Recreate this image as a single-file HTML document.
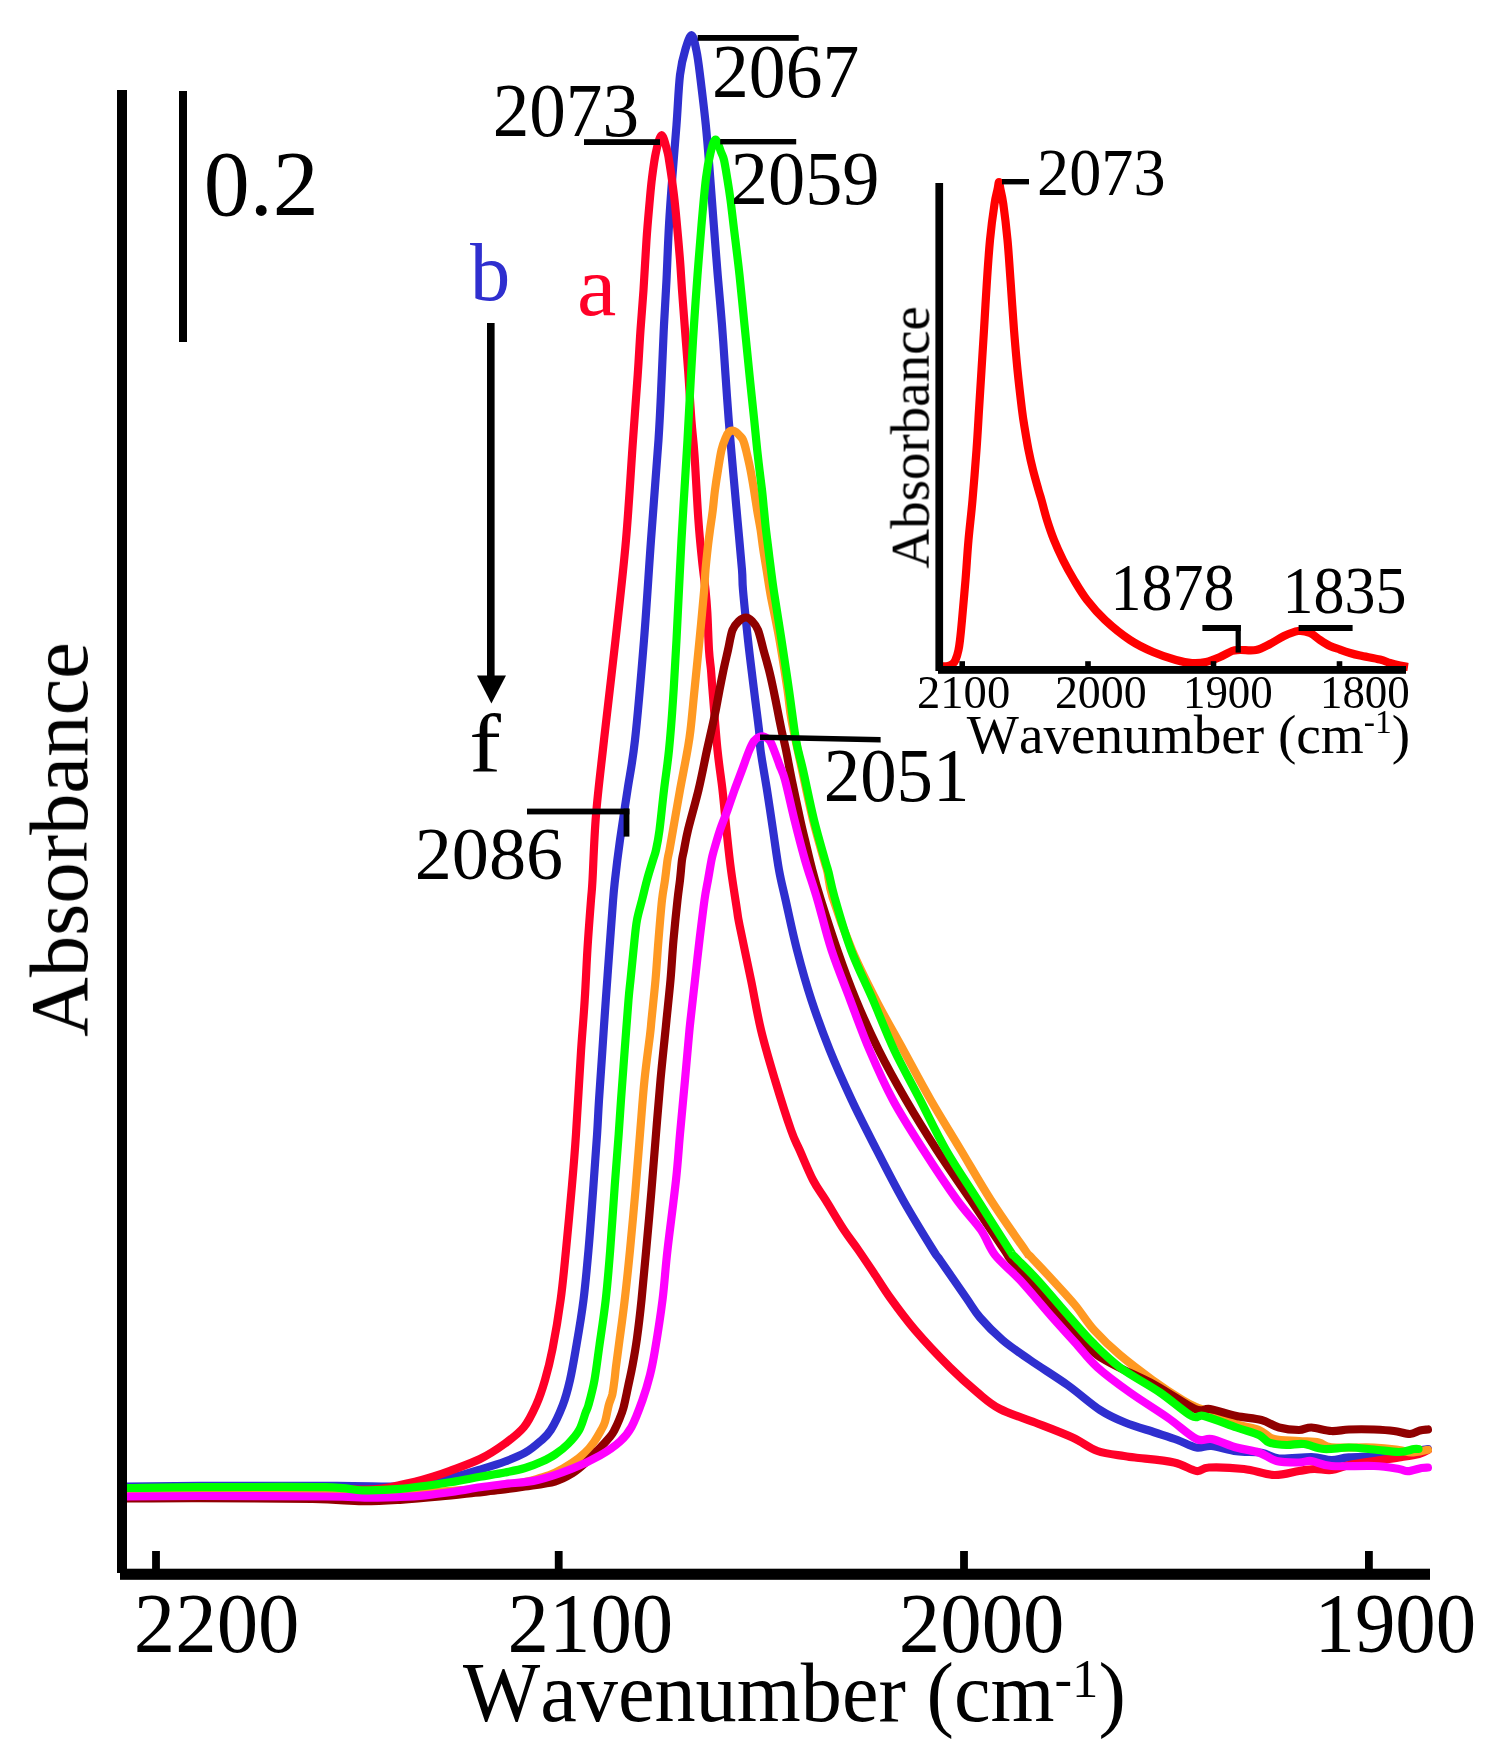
<!DOCTYPE html>
<html><head><meta charset="utf-8"><title>IR spectra</title>
<style>
html,body{margin:0;padding:0;background:#fff;}
body{width:1499px;height:1758px;position:relative;overflow:hidden;font-family:"Liberation Serif",serif;}
svg text{font-family:"Liberation Serif",serif;font-kerning:none;}
</style></head><body>
<svg width="1499" height="1758" viewBox="0 0 1499 1758" style="display:block;position:absolute;left:0;top:0">
<rect width="1499" height="1758" fill="#fff"/>
<defs><clipPath id="cc"><rect x="100" y="0" width="1332" height="1758"/></clipPath></defs>
<g clip-path="url(#cc)">
<path d="M127.0,1486.5 C139.2,1486.4 165.0,1486.0 200.0,1485.9 C235.0,1485.8 303.7,1485.8 337.0,1485.9 C370.3,1486.0 384.2,1487.2 400.0,1486.5 C415.8,1485.8 422.0,1483.8 432.0,1482.0 C442.0,1480.2 452.0,1477.6 460.0,1475.5 C468.0,1473.4 472.5,1471.9 480.0,1469.6 C487.5,1467.3 497.5,1464.3 505.0,1461.5 C512.5,1458.7 519.2,1456.1 525.0,1452.8 C530.8,1449.5 535.7,1445.3 540.0,1441.5 C544.3,1437.7 547.0,1436.1 550.8,1430.0 C554.6,1423.9 559.6,1413.3 562.8,1405.0 C566.0,1396.7 567.7,1390.0 570.0,1380.0 C572.3,1370.0 574.2,1358.3 576.5,1345.0 C578.8,1331.7 581.5,1315.8 583.5,1300.0 C585.5,1284.2 586.8,1269.2 588.5,1250.0 C590.2,1230.8 592.1,1204.3 593.5,1185.0 C594.9,1165.7 596.2,1148.2 597.1,1134.0 C598.0,1119.8 598.1,1114.0 599.0,1100.0 C599.9,1086.0 601.3,1066.7 602.4,1050.0 C603.5,1033.3 604.6,1016.7 605.8,1000.0 C607.0,983.3 608.2,966.7 609.4,950.0 C610.6,933.3 612.2,911.7 613.1,900.0 C614.0,888.3 613.9,890.0 615.0,880.0 C616.1,870.0 617.9,855.0 620.0,840.0 C622.1,825.0 625.0,806.7 627.5,790.0 C630.0,773.3 632.2,765.0 635.0,740.0 C637.8,715.0 641.3,673.3 644.0,640.0 C646.7,606.7 648.6,573.3 651.0,540.0 C653.4,506.7 656.7,467.5 658.5,440.0 C660.3,412.5 660.9,394.2 661.8,375.0 C662.7,355.8 663.2,340.8 664.0,325.0 C664.8,309.2 665.7,296.7 666.5,280.0 C667.3,263.3 668.0,242.5 669.0,225.0 C670.0,207.5 671.2,191.7 672.5,175.0 C673.8,158.3 675.2,141.7 676.5,125.0 C677.8,108.3 678.5,87.7 680.0,75.0 C681.5,62.3 683.5,55.6 685.5,49.0 C687.5,42.4 689.9,34.9 691.7,35.2 C693.5,35.5 695.1,44.4 696.5,51.0 C697.9,57.6 698.5,62.7 700.0,75.0 C701.5,87.3 704.1,108.3 705.8,125.0 C707.5,141.7 708.7,158.3 710.0,175.0 C711.3,191.7 712.5,208.3 713.8,225.0 C715.1,241.7 716.3,258.3 717.7,275.0 C719.1,291.7 720.7,308.3 722.0,325.0 C723.3,341.7 724.4,359.2 725.5,375.0 C726.6,390.8 727.5,404.2 728.7,420.0 C730.0,435.8 731.5,453.3 733.0,470.0 C734.5,486.7 736.0,503.3 737.5,520.0 C739.0,536.7 741.1,558.3 742.0,570.0 C742.9,581.7 742.0,578.3 743.0,590.0 C744.0,601.7 746.2,623.3 748.0,640.0 C749.8,656.7 752.2,675.0 754.0,690.0 C755.8,705.0 757.9,720.0 759.0,730.0 C760.1,740.0 759.2,740.0 760.5,750.0 C761.8,760.0 764.9,776.7 767.0,790.0 C769.1,803.3 771.0,816.7 773.0,830.0 C775.0,843.3 776.9,858.3 779.0,870.0 C781.1,881.7 782.6,886.7 785.6,900.0 C788.6,913.3 792.7,933.3 797.0,950.0 C801.3,966.7 805.9,983.3 811.4,1000.0 C816.9,1016.7 823.0,1033.3 829.7,1050.0 C836.4,1066.7 843.9,1083.3 851.7,1100.0 C859.5,1116.7 868.2,1133.3 876.7,1150.0 C885.2,1166.7 893.6,1183.3 903.0,1200.0 C912.4,1216.7 926.8,1240.0 933.0,1250.0 C939.2,1260.0 934.5,1252.1 940.0,1260.0 C945.5,1267.9 959.3,1287.9 966.0,1297.5 C972.7,1307.1 973.9,1310.4 980.0,1317.5 C986.1,1324.6 994.2,1332.9 1002.5,1340.0 C1010.8,1347.1 1019.2,1352.5 1030.0,1360.0 C1040.8,1367.5 1055.8,1376.7 1067.5,1385.0 C1079.2,1393.3 1090.4,1403.8 1100.0,1410.0 C1109.6,1416.2 1115.8,1418.8 1125.0,1422.5 C1134.2,1426.2 1146.2,1429.6 1155.0,1432.5 C1163.8,1435.4 1170.6,1437.5 1177.5,1440.0 C1184.4,1442.5 1190.8,1446.5 1196.5,1447.5 C1202.2,1448.5 1204.8,1445.4 1211.5,1446.0 C1218.2,1446.6 1228.2,1450.2 1236.5,1451.3 C1244.8,1452.4 1254.4,1451.6 1261.5,1452.8 C1268.6,1454.0 1270.7,1457.8 1279.0,1458.5 C1287.3,1459.2 1302.8,1456.8 1311.5,1457.0 C1320.2,1457.2 1325.2,1459.9 1331.5,1460.0 C1337.8,1460.1 1339.8,1458.2 1349.0,1457.4 C1358.2,1456.7 1373.3,1456.9 1386.5,1455.5 C1399.7,1454.1 1421.0,1450.2 1427.9,1449.1" fill="none" stroke="#2f2fcf" stroke-width="8.2" stroke-linejoin="round" stroke-linecap="round"/>
<path d="M127.0,1489.0 C139.2,1488.8 171.2,1488.2 200.0,1488.0 C228.8,1487.8 272.9,1487.2 300.0,1487.5 C327.1,1487.8 348.3,1489.4 362.5,1489.5 C376.7,1489.6 378.8,1488.7 385.0,1488.0 C391.2,1487.3 395.0,1486.1 400.0,1485.1 C405.0,1484.1 409.7,1483.1 415.0,1481.8 C420.3,1480.5 426.2,1478.8 432.0,1477.0 C437.8,1475.2 442.0,1473.8 450.0,1470.8 C458.0,1467.8 470.8,1463.5 480.0,1459.0 C489.2,1454.5 497.7,1448.8 505.0,1443.5 C512.3,1438.2 518.8,1433.4 524.0,1427.0 C529.2,1420.6 532.7,1412.8 536.2,1405.0 C539.7,1397.2 542.3,1389.3 545.0,1380.0 C547.7,1370.7 549.9,1362.3 552.5,1349.0 C555.1,1335.7 558.4,1316.5 560.6,1300.0 C562.9,1283.5 564.1,1269.2 566.0,1250.0 C567.9,1230.8 570.3,1204.3 572.0,1185.0 C573.7,1165.7 574.5,1156.5 576.0,1134.0 C577.5,1111.5 579.6,1072.3 581.1,1050.0 C582.6,1027.7 583.7,1016.7 584.7,1000.0 C585.8,983.3 586.4,966.7 587.4,950.0 C588.4,933.3 590.1,911.7 591.0,900.0 C591.9,888.3 591.7,894.2 592.5,880.0 C593.3,865.8 594.1,838.3 596.0,815.0 C597.9,791.7 600.8,769.2 604.0,740.0 C607.2,710.8 611.8,673.3 615.5,640.0 C619.2,606.7 623.1,573.3 626.0,540.0 C628.9,506.7 631.0,467.5 633.0,440.0 C635.0,412.5 636.5,393.3 637.7,375.0 C639.0,356.7 639.5,344.2 640.5,330.0 C641.5,315.8 642.5,305.0 643.5,290.0 C644.5,275.0 645.5,255.0 646.5,240.0 C647.5,225.0 648.9,210.3 649.8,200.0 C650.7,189.7 651.0,186.0 652.0,178.0 C653.0,170.0 654.4,159.1 656.0,152.0 C657.6,144.9 659.7,135.5 661.5,135.2 C663.3,134.9 665.8,145.9 667.0,150.0 C668.2,154.1 668.2,155.0 669.0,160.0 C669.8,165.0 671.1,173.3 672.0,180.0 C672.9,186.7 673.8,193.3 674.5,200.0 C675.2,206.7 675.6,210.0 676.5,220.0 C677.4,230.0 679.1,248.3 680.0,260.0 C680.9,271.7 681.2,278.3 682.0,290.0 C682.8,301.7 684.0,316.7 685.0,330.0 C686.0,343.3 687.0,355.0 688.1,370.0 C689.2,385.0 690.3,405.8 691.4,420.0 C692.5,434.2 693.3,438.3 694.5,455.0 C695.7,471.7 697.1,502.5 698.4,520.0 C699.6,537.5 700.8,548.3 702.0,560.0 C703.2,571.7 704.6,581.3 705.5,590.0 C706.4,598.7 706.7,602.0 707.3,612.0 C707.9,622.0 708.4,640.3 709.0,650.0 C709.6,659.7 710.4,663.3 711.0,670.0 C711.6,676.7 711.4,676.7 712.5,690.0 C713.6,703.3 715.8,733.3 717.5,750.0 C719.2,766.7 721.0,776.7 722.5,790.0 C724.0,803.3 725.1,816.7 726.5,830.0 C727.9,843.3 729.2,856.7 731.0,870.0 C732.8,883.3 735.6,900.8 737.0,910.0 C738.4,919.2 737.2,913.3 739.5,925.0 C741.8,936.7 747.4,962.5 751.0,980.0 C754.6,997.5 757.0,1013.3 761.0,1030.0 C765.0,1046.7 770.0,1063.3 775.0,1080.0 C780.0,1096.7 786.9,1118.3 791.0,1130.0 C795.1,1141.7 795.9,1141.7 799.6,1150.0 C803.3,1158.3 808.7,1171.7 813.0,1180.0 C817.3,1188.3 820.4,1191.7 825.6,1200.0 C830.8,1208.3 838.5,1221.7 844.0,1230.0 C849.5,1238.3 853.4,1242.9 858.3,1250.0 C863.2,1257.1 868.2,1264.6 873.5,1272.5 C878.8,1280.4 883.1,1287.9 890.0,1297.5 C896.9,1307.1 905.0,1318.3 915.0,1330.0 C925.0,1341.7 939.6,1357.1 950.0,1367.5 C960.4,1377.9 969.2,1385.6 977.5,1392.5 C985.8,1399.4 990.4,1404.0 1000.0,1409.0 C1009.6,1414.0 1022.9,1417.8 1035.0,1422.5 C1047.1,1427.2 1062.1,1432.8 1072.5,1437.5 C1082.9,1442.2 1088.9,1447.9 1097.5,1451.0 C1106.1,1454.1 1117.8,1454.9 1124.0,1456.0 C1130.2,1457.1 1126.7,1456.4 1135.0,1457.5 C1143.3,1458.6 1163.8,1460.2 1174.0,1462.5 C1184.2,1464.8 1190.7,1470.2 1196.5,1471.0 C1202.3,1471.8 1201.1,1467.8 1209.0,1467.5 C1216.9,1467.2 1233.2,1467.8 1244.0,1469.0 C1254.8,1470.2 1264.8,1474.7 1274.0,1475.0 C1283.2,1475.3 1292.3,1472.0 1299.0,1471.0 C1305.7,1470.0 1308.6,1469.2 1314.0,1469.0 C1319.4,1468.8 1325.7,1470.7 1331.5,1470.0 C1337.3,1469.3 1341.9,1466.5 1349.0,1465.0 C1356.1,1463.5 1365.7,1462.2 1374.0,1461.0 C1382.3,1459.8 1391.5,1458.7 1399.0,1457.5 C1406.5,1456.3 1414.2,1455.2 1419.0,1454.0 C1423.8,1452.8 1426.4,1450.7 1427.9,1450.0" fill="none" stroke="#ff0028" stroke-width="8.2" stroke-linejoin="round" stroke-linecap="round"/>
<path d="M127.0,1492.0 C155.8,1492.0 254.5,1491.5 300.0,1491.7 C345.5,1491.9 370.8,1493.5 400.0,1493.0 C429.2,1492.5 455.0,1490.7 475.0,1489.0 C495.0,1487.3 509.2,1484.8 520.0,1483.0 C530.8,1481.2 534.2,1479.7 540.0,1478.0 C545.8,1476.3 549.7,1475.3 555.0,1472.8 C560.3,1470.3 567.0,1466.3 572.0,1463.0 C577.0,1459.7 581.3,1456.3 585.0,1452.8 C588.7,1449.3 591.3,1445.8 594.0,1442.0 C596.7,1438.2 599.4,1433.3 601.2,1430.0 C603.0,1426.7 603.7,1426.1 605.0,1421.9 C606.3,1417.7 607.6,1409.5 608.8,1405.0 C610.0,1400.5 611.3,1398.8 612.3,1394.6 C613.2,1390.4 613.9,1384.5 614.5,1380.0 C615.1,1375.5 615.1,1374.0 615.9,1367.3 C616.7,1360.6 618.0,1351.2 619.5,1340.0 C621.0,1328.8 623.0,1315.0 624.7,1300.0 C626.5,1285.0 628.2,1268.3 630.0,1250.0 C631.8,1231.7 633.8,1209.3 635.5,1190.0 C637.2,1170.7 638.5,1152.3 640.0,1134.0 C641.5,1115.7 642.8,1096.5 644.5,1080.0 C646.2,1063.5 648.8,1045.0 650.0,1035.0 C651.2,1025.0 650.6,1029.2 651.5,1020.0 C652.4,1010.8 654.3,993.3 655.5,980.0 C656.7,966.7 657.4,953.3 658.5,940.0 C659.6,926.7 660.9,910.0 662.0,900.0 C663.1,890.0 664.1,886.7 665.0,880.0 C665.9,873.3 666.8,865.0 667.5,860.0 C668.2,855.0 668.6,855.0 669.5,850.0 C670.4,845.0 671.2,840.0 673.0,830.0 C674.8,820.0 677.6,803.3 680.0,790.0 C682.4,776.7 685.8,760.0 687.5,750.0 C689.2,740.0 689.3,740.0 690.5,730.0 C691.7,720.0 693.0,705.0 694.5,690.0 C696.0,675.0 697.9,656.3 699.5,640.0 C701.1,623.7 703.0,603.7 704.0,592.0 C705.0,580.3 704.9,577.0 705.5,570.0 C706.1,563.0 706.8,556.7 707.5,550.0 C708.2,543.3 709.1,536.7 710.0,530.0 C710.9,523.3 712.0,516.7 712.8,510.0 C713.6,503.3 714.1,496.7 715.0,490.0 C715.9,483.3 716.9,476.7 718.0,470.0 C719.1,463.3 720.2,455.5 721.5,450.0 C722.8,444.5 724.7,440.1 726.0,437.0 C727.3,433.9 728.4,432.6 729.5,431.5 C730.6,430.4 731.4,430.4 732.5,430.5 C733.6,430.6 734.8,431.1 736.0,432.0 C737.2,432.9 738.8,434.7 740.0,436.0 C741.2,437.3 742.0,437.7 743.0,440.0 C744.0,442.3 744.8,445.0 746.0,450.0 C747.2,455.0 749.2,463.3 750.5,470.0 C751.8,476.7 752.9,483.3 754.0,490.0 C755.1,496.7 756.0,503.3 757.1,510.0 C758.2,516.7 759.6,523.3 760.6,530.0 C761.6,536.7 762.3,543.3 763.3,550.0 C764.3,556.7 765.4,562.5 766.6,570.0 C767.8,577.5 768.5,583.3 770.6,595.0 C772.8,606.7 776.7,624.2 779.5,640.0 C782.3,655.8 785.5,676.7 787.5,690.0 C789.5,703.3 789.1,706.7 791.5,720.0 C793.9,733.3 798.4,753.3 802.0,770.0 C805.6,786.7 809.3,805.0 813.0,820.0 C816.7,835.0 821.6,851.3 824.0,860.0 C826.4,868.7 826.1,865.8 827.5,872.0 C828.9,878.2 828.4,884.0 832.5,897.0 C836.6,910.0 844.8,932.8 852.0,950.0 C859.2,967.2 867.5,983.3 876.0,1000.0 C884.5,1016.7 894.2,1033.3 903.3,1050.0 C912.4,1066.7 921.1,1083.3 930.7,1100.0 C940.3,1116.7 950.8,1133.3 960.8,1150.0 C970.8,1166.7 980.1,1183.3 990.8,1200.0 C1001.5,1216.7 1018.5,1240.7 1025.0,1250.0 C1031.5,1259.3 1025.4,1251.0 1030.0,1256.0 C1034.6,1261.0 1045.0,1271.8 1052.5,1280.0 C1060.0,1288.2 1068.1,1296.7 1075.0,1305.0 C1081.9,1313.3 1086.5,1321.7 1094.0,1330.0 C1101.5,1338.3 1110.2,1346.7 1120.0,1355.0 C1129.8,1363.3 1142.1,1372.5 1152.5,1380.0 C1162.9,1387.5 1175.2,1395.5 1182.5,1400.0 C1189.8,1404.5 1191.4,1405.0 1196.0,1407.0 C1200.6,1409.0 1203.2,1409.2 1210.0,1412.0 C1216.8,1414.8 1228.3,1421.0 1236.5,1424.0 C1244.7,1427.0 1252.8,1427.5 1259.0,1430.0 C1265.2,1432.5 1267.3,1437.2 1274.0,1439.0 C1280.7,1440.8 1291.5,1440.4 1299.0,1441.0 C1306.5,1441.6 1313.6,1441.5 1319.0,1442.5 C1324.4,1443.5 1322.3,1446.5 1331.5,1447.3 C1340.7,1448.1 1362.8,1447.0 1374.0,1447.5 C1385.2,1448.0 1392.8,1449.2 1399.0,1450.0 C1405.2,1450.8 1406.7,1452.5 1411.5,1452.5 C1416.3,1452.5 1425.2,1450.2 1427.9,1449.8" fill="none" stroke="#ff9922" stroke-width="8.2" stroke-linejoin="round" stroke-linecap="round"/>
<path d="M127.0,1498.5 C139.2,1498.4 169.1,1498.0 200.0,1498.1 C230.9,1498.2 285.4,1498.5 312.5,1499.0 C339.6,1499.5 347.9,1501.1 362.5,1501.2 C377.1,1501.3 387.1,1500.6 400.0,1499.8 C412.9,1499.0 427.5,1497.7 440.0,1496.5 C452.5,1495.3 465.0,1493.8 475.0,1492.7 C485.0,1491.6 491.7,1491.0 500.0,1490.0 C508.3,1489.0 515.8,1487.9 525.0,1486.5 C534.2,1485.1 547.2,1483.7 555.0,1481.5 C562.8,1479.3 567.0,1476.5 572.0,1473.5 C577.0,1470.5 580.7,1467.2 585.0,1463.3 C589.3,1459.4 593.8,1454.4 598.0,1450.0 C602.2,1445.6 607.2,1440.1 610.0,1436.8 C612.8,1433.5 612.9,1433.0 614.5,1430.0 C616.1,1427.0 618.0,1422.7 619.5,1419.0 C621.0,1415.3 622.2,1412.4 623.4,1408.0 C624.6,1403.6 625.8,1397.5 626.8,1392.8 C627.8,1388.1 628.5,1384.5 629.5,1380.0 C630.5,1375.5 631.2,1372.5 632.5,1365.5 C633.8,1358.5 635.5,1349.1 637.0,1338.2 C638.5,1327.3 640.0,1314.7 641.5,1300.0 C643.0,1285.3 644.5,1268.3 646.2,1250.0 C647.9,1231.7 649.9,1209.3 651.5,1190.0 C653.1,1170.7 654.5,1152.3 656.0,1134.0 C657.5,1115.7 659.0,1096.5 660.5,1080.0 C662.0,1063.5 664.0,1045.0 665.0,1035.0 C666.0,1025.0 665.6,1029.2 666.5,1020.0 C667.4,1010.8 669.3,993.3 670.5,980.0 C671.7,966.7 672.3,953.3 673.5,940.0 C674.7,926.7 676.4,910.0 677.5,900.0 C678.6,890.0 679.2,886.7 680.0,880.0 C680.8,873.3 681.3,865.0 682.0,860.0 C682.7,855.0 683.0,855.0 684.0,850.0 C685.0,845.0 685.6,840.0 688.0,830.0 C690.4,820.0 695.3,803.3 698.5,790.0 C701.7,776.7 704.8,760.0 707.0,750.0 C709.2,740.0 710.0,736.7 711.5,730.0 C713.0,723.3 714.5,716.7 715.8,710.0 C717.1,703.3 718.2,696.7 719.5,690.0 C720.8,683.3 722.1,676.7 723.5,670.0 C724.9,663.3 726.5,656.7 728.0,650.0 C729.5,643.3 730.7,634.8 732.5,630.0 C734.3,625.2 736.8,623.1 739.0,621.0 C741.2,618.9 743.8,617.5 746.0,617.5 C748.2,617.5 750.0,618.9 752.0,621.0 C754.0,623.1 756.1,625.2 758.0,630.0 C759.9,634.8 761.7,643.3 763.5,650.0 C765.3,656.7 767.3,663.3 769.0,670.0 C770.7,676.7 772.1,683.3 773.5,690.0 C774.9,696.7 776.2,703.3 777.5,710.0 C778.8,716.7 780.1,723.3 781.5,730.0 C782.9,736.7 784.3,741.7 786.0,750.0 C787.7,758.3 789.4,768.3 791.8,780.0 C794.2,791.7 798.1,810.0 800.3,820.0 C802.5,830.0 803.0,831.7 805.0,840.0 C807.0,848.3 809.6,860.0 812.3,870.0 C814.9,880.0 816.7,886.7 820.9,900.0 C825.1,913.3 831.4,933.3 837.3,950.0 C843.1,966.7 849.1,983.3 856.0,1000.0 C862.9,1016.7 870.4,1033.3 878.7,1050.0 C887.0,1066.7 896.3,1083.3 906.0,1100.0 C915.7,1116.7 926.0,1133.3 936.8,1150.0 C947.6,1166.7 959.5,1183.3 970.8,1200.0 C982.1,1216.7 997.7,1240.0 1004.4,1250.0 C1011.1,1260.0 1004.6,1252.1 1011.0,1260.0 C1017.4,1267.9 1034.5,1287.9 1043.0,1297.5 C1051.5,1307.1 1053.0,1307.9 1062.0,1317.5 C1071.0,1327.1 1081.5,1343.8 1097.0,1355.0 C1112.5,1366.2 1138.7,1376.0 1155.0,1385.0 C1171.3,1394.0 1185.8,1405.0 1195.0,1409.0 C1204.2,1413.0 1203.1,1407.8 1210.0,1409.0 C1216.9,1410.2 1227.9,1414.2 1236.5,1416.0 C1245.1,1417.8 1254.4,1418.1 1261.5,1420.0 C1268.6,1421.9 1272.8,1425.8 1279.0,1427.5 C1285.2,1429.2 1293.6,1430.0 1299.0,1430.0 C1304.4,1430.0 1306.1,1427.3 1311.5,1427.5 C1316.9,1427.7 1325.2,1430.7 1331.5,1431.0 C1337.8,1431.3 1341.9,1429.8 1349.0,1429.5 C1356.1,1429.2 1366.5,1429.2 1374.0,1429.5 C1381.5,1429.8 1388.0,1430.2 1394.0,1431.0 C1400.0,1431.8 1405.7,1434.1 1410.0,1434.0 C1414.3,1433.9 1417.0,1431.2 1420.0,1430.5 C1423.0,1429.8 1426.6,1429.7 1427.9,1429.5" fill="none" stroke="#900000" stroke-width="8.2" stroke-linejoin="round" stroke-linecap="round"/>
<path d="M127.0,1496.5 C139.2,1496.4 167.0,1496.0 200.0,1496.0 C233.0,1496.0 295.8,1496.2 325.0,1496.5 C354.2,1496.8 362.5,1497.6 375.0,1497.7 C387.5,1497.8 391.7,1497.4 400.0,1497.0 C408.3,1496.6 415.8,1496.2 425.0,1495.3 C434.2,1494.4 445.8,1492.8 455.0,1491.5 C464.2,1490.2 471.7,1488.5 480.0,1487.3 C488.3,1486.0 495.4,1485.2 505.0,1484.0 C514.6,1482.8 526.2,1482.6 537.5,1480.0 C548.8,1477.4 562.1,1472.6 572.5,1468.5 C582.9,1464.4 592.1,1460.0 600.0,1455.5 C607.9,1451.0 614.8,1446.2 620.0,1441.5 C625.2,1436.8 627.8,1433.9 631.5,1427.0 C635.2,1420.1 639.4,1408.7 642.5,1400.0 C645.6,1391.3 647.9,1383.3 650.0,1375.0 C652.1,1366.7 652.9,1362.5 655.0,1350.0 C657.1,1337.5 660.4,1316.7 662.5,1300.0 C664.6,1283.3 665.2,1270.0 667.5,1250.0 C669.8,1230.0 673.9,1199.3 676.0,1180.0 C678.1,1160.7 678.5,1150.7 680.0,1134.0 C681.5,1117.3 683.5,1096.5 685.0,1080.0 C686.5,1063.5 688.1,1045.0 689.0,1035.0 C689.9,1025.0 689.5,1029.2 690.5,1020.0 C691.5,1010.8 693.5,993.3 695.0,980.0 C696.5,966.7 697.9,953.3 699.5,940.0 C701.1,926.7 703.1,910.0 704.5,900.0 C705.9,890.0 706.8,886.7 708.0,880.0 C709.2,873.3 710.5,865.0 711.5,860.0 C712.5,855.0 712.6,855.0 714.0,850.0 C715.4,845.0 717.8,836.7 720.0,830.0 C722.2,823.3 725.1,816.7 727.5,810.0 C729.9,803.3 732.1,796.7 734.5,790.0 C736.9,783.3 739.6,776.5 742.0,770.0 C744.4,763.5 747.0,755.8 749.0,751.0 C751.0,746.2 752.3,743.3 754.0,741.0 C755.7,738.7 757.2,737.7 759.0,737.0 C760.8,736.3 763.2,736.3 765.0,737.0 C766.8,737.7 768.5,738.8 770.0,741.0 C771.5,743.2 772.4,746.0 774.0,750.0 C775.6,754.0 777.7,760.0 779.5,765.0 C781.3,770.0 782.5,770.8 785.0,780.0 C787.5,789.2 791.2,806.7 794.5,820.0 C797.8,833.3 801.2,846.7 805.0,860.0 C808.8,873.3 813.1,885.0 817.5,900.0 C821.9,915.0 826.0,933.3 831.5,950.0 C837.0,966.7 843.9,983.3 850.2,1000.0 C856.5,1016.7 862.4,1033.3 869.5,1050.0 C876.6,1066.7 883.9,1083.3 892.9,1100.0 C901.9,1116.7 912.7,1133.3 923.4,1150.0 C934.1,1166.7 947.4,1186.7 957.0,1200.0 C966.6,1213.3 974.7,1220.8 981.0,1230.0 C987.3,1239.2 988.5,1246.7 995.0,1255.0 C1001.5,1263.3 1010.4,1269.6 1020.0,1280.0 C1029.6,1290.4 1043.3,1307.1 1052.5,1317.5 C1061.7,1327.9 1067.5,1334.2 1075.0,1342.5 C1082.5,1350.8 1088.3,1359.2 1097.5,1367.5 C1106.7,1375.8 1118.3,1384.2 1130.0,1392.5 C1141.7,1400.8 1156.4,1409.8 1167.5,1417.5 C1178.6,1425.2 1189.2,1435.4 1196.5,1439.0 C1203.8,1442.6 1204.8,1437.6 1211.5,1439.0 C1218.2,1440.4 1228.6,1445.2 1236.5,1447.5 C1244.4,1449.8 1252.3,1450.2 1259.0,1452.5 C1265.7,1454.8 1269.8,1459.3 1276.5,1461.0 C1283.2,1462.7 1293.2,1462.5 1299.0,1462.5 C1304.8,1462.5 1306.1,1460.4 1311.5,1461.0 C1316.9,1461.6 1321.1,1465.2 1331.5,1466.0 C1341.9,1466.8 1362.8,1465.5 1374.0,1466.0 C1385.2,1466.5 1393.3,1468.1 1399.0,1469.0 C1404.7,1469.9 1404.2,1471.4 1408.0,1471.2 C1411.8,1471.0 1418.2,1468.6 1421.5,1468.0 C1424.8,1467.4 1426.8,1467.6 1427.9,1467.5" fill="none" stroke="#ff00ff" stroke-width="8.2" stroke-linejoin="round" stroke-linecap="round"/>
<path d="M127.0,1488.0 C139.2,1487.9 167.0,1487.3 200.0,1487.2 C233.0,1487.1 297.9,1486.7 325.0,1487.2 C352.1,1487.7 350.0,1490.0 362.5,1490.3 C375.0,1490.6 385.4,1490.2 400.0,1488.9 C414.6,1487.6 436.7,1484.3 450.0,1482.3 C463.3,1480.3 470.8,1478.4 480.0,1476.8 C489.2,1475.2 497.5,1474.0 505.0,1472.5 C512.5,1471.0 518.8,1469.8 525.0,1468.0 C531.2,1466.2 537.0,1463.8 542.0,1461.5 C547.0,1459.2 550.7,1457.4 555.0,1454.5 C559.3,1451.6 564.0,1448.1 568.0,1444.0 C572.0,1439.9 576.3,1435.2 579.2,1430.0 C582.1,1424.8 584.0,1417.0 585.5,1412.8 C587.0,1408.6 587.0,1410.5 588.5,1405.0 C590.0,1399.5 592.7,1390.0 594.5,1380.0 C596.3,1370.0 597.6,1358.3 599.5,1345.0 C601.4,1331.7 603.9,1315.8 605.7,1300.0 C607.5,1284.2 608.7,1269.2 610.2,1250.0 C611.7,1230.8 613.4,1204.3 614.8,1185.0 C616.2,1165.7 617.7,1148.2 618.7,1134.0 C619.7,1119.8 620.0,1114.0 621.0,1100.0 C622.0,1086.0 623.5,1066.7 624.7,1050.0 C626.0,1033.3 627.5,1011.7 628.5,1000.0 C629.5,988.3 629.8,986.7 630.5,980.0 C631.2,973.3 631.8,966.7 632.5,960.0 C633.2,953.3 633.8,946.7 634.5,940.0 C635.2,933.3 635.8,926.7 637.0,920.0 C638.2,913.3 640.3,906.7 642.0,900.0 C643.7,893.3 645.2,886.7 647.0,880.0 C648.8,873.3 651.5,865.0 653.0,860.0 C654.5,855.0 654.9,855.0 656.0,850.0 C657.1,845.0 658.2,840.0 659.5,830.0 C660.8,820.0 662.4,803.3 664.0,790.0 C665.6,776.7 667.5,765.0 669.0,750.0 C670.5,735.0 671.8,718.3 673.0,700.0 C674.2,681.7 675.1,666.7 676.5,640.0 C677.9,613.3 679.7,573.3 681.5,540.0 C683.3,506.7 685.9,467.5 687.5,440.0 C689.1,412.5 689.9,394.2 691.0,375.0 C692.1,355.8 692.9,341.7 694.0,325.0 C695.1,308.3 696.2,291.7 697.5,275.0 C698.8,258.3 700.1,241.2 701.5,225.0 C702.9,208.8 704.5,190.0 706.0,178.0 C707.5,166.0 708.9,159.4 710.5,153.0 C712.1,146.6 713.8,139.7 715.5,139.5 C717.2,139.3 719.6,148.6 721.0,152.0 C722.4,155.4 722.9,155.3 724.0,160.0 C725.1,164.7 726.4,173.3 727.5,180.0 C728.6,186.7 729.5,192.5 730.5,200.0 C731.5,207.5 732.0,212.5 733.5,225.0 C735.0,237.5 737.7,258.3 739.5,275.0 C741.3,291.7 742.8,308.3 744.5,325.0 C746.2,341.7 747.9,359.2 749.5,375.0 C751.1,390.8 752.9,407.5 754.2,420.0 C755.5,432.5 756.3,441.7 757.2,450.0 C758.1,458.3 758.7,463.3 759.5,470.0 C760.3,476.7 761.2,483.3 762.0,490.0 C762.8,496.7 763.3,503.3 764.0,510.0 C764.7,516.7 765.2,523.3 766.0,530.0 C766.8,536.7 767.7,543.3 768.5,550.0 C769.3,556.7 770.1,563.0 771.0,570.0 C771.9,577.0 772.2,580.3 774.0,592.0 C775.8,603.7 779.0,623.7 781.5,640.0 C784.0,656.3 786.6,673.3 789.0,690.0 C791.4,706.7 793.7,726.7 796.0,740.0 C798.3,753.3 800.0,756.7 803.0,770.0 C806.0,783.3 810.3,805.0 814.0,820.0 C817.7,835.0 822.6,851.3 825.0,860.0 C827.4,868.7 826.9,865.8 828.5,872.0 C830.1,878.2 830.8,884.0 834.5,897.0 C838.2,910.0 844.6,932.8 851.0,950.0 C857.4,967.2 865.8,983.3 873.0,1000.0 C880.2,1016.7 886.3,1033.3 894.2,1050.0 C902.1,1066.7 911.6,1083.3 920.2,1100.0 C928.8,1116.7 936.4,1133.3 946.0,1150.0 C955.6,1166.7 967.1,1183.3 977.7,1200.0 C988.3,1216.7 1003.3,1240.5 1009.5,1250.0 C1015.7,1259.5 1010.3,1252.0 1015.0,1257.0 C1019.7,1262.0 1028.3,1269.9 1037.5,1280.0 C1046.7,1290.1 1060.8,1307.1 1070.0,1317.5 C1079.2,1327.9 1084.2,1334.2 1092.5,1342.5 C1100.8,1350.8 1108.8,1359.2 1120.0,1367.5 C1131.2,1375.8 1148.1,1384.4 1160.0,1392.5 C1171.9,1400.6 1184.2,1412.1 1191.5,1416.0 C1198.8,1419.9 1196.5,1414.1 1204.0,1416.0 C1211.5,1417.9 1227.3,1424.3 1236.5,1427.5 C1245.7,1430.7 1253.6,1432.5 1259.0,1435.0 C1264.4,1437.5 1264.4,1440.8 1269.0,1442.5 C1273.6,1444.2 1280.7,1444.8 1286.5,1445.0 C1292.3,1445.2 1297.8,1443.3 1304.0,1444.0 C1310.2,1444.7 1316.5,1448.4 1324.0,1449.0 C1331.5,1449.6 1340.7,1447.4 1349.0,1447.5 C1357.3,1447.6 1365.7,1448.8 1374.0,1449.5 C1382.3,1450.2 1392.3,1452.1 1399.0,1452.0 C1405.7,1451.9 1410.8,1449.5 1414.0,1449.0 C1417.2,1448.5 1417.8,1449.0 1418.5,1449.0" fill="none" stroke="#00ff00" stroke-width="8.2" stroke-linejoin="round" stroke-linecap="round"/>
</g>
<path d="M940.0,666.2 C941.3,666.2 945.9,666.4 948.0,666.0 C950.1,665.6 951.2,665.0 952.5,664.0 C953.8,663.0 954.5,662.3 955.5,660.0 C956.5,657.7 957.8,653.3 958.5,650.0 C959.2,646.7 959.4,645.0 960.0,640.0 C960.6,635.0 961.1,630.0 962.0,620.0 C962.9,610.0 964.4,593.3 965.5,580.0 C966.6,566.7 967.3,553.3 968.5,540.0 C969.7,526.7 971.2,515.0 972.5,500.0 C973.8,485.0 975.4,465.0 976.5,450.0 C977.6,435.0 978.2,423.3 979.0,410.0 C979.8,396.7 980.7,383.3 981.5,370.0 C982.3,356.7 983.1,345.0 984.0,330.0 C984.9,315.0 986.0,295.0 987.0,280.0 C988.0,265.0 988.8,252.7 990.0,240.0 C991.2,227.3 993.2,212.5 994.5,204.0 C995.8,195.5 996.9,192.7 997.6,189.0 C998.4,185.3 998.5,182.0 999.0,182.0 C999.5,182.0 999.7,185.3 1000.4,189.0 C1001.1,192.7 1002.1,195.5 1003.3,204.0 C1004.5,212.5 1006.3,227.3 1007.5,240.0 C1008.7,252.7 1009.4,265.0 1010.5,280.0 C1011.6,295.0 1012.8,315.0 1014.0,330.0 C1015.2,345.0 1016.2,356.7 1017.5,370.0 C1018.8,383.3 1020.8,400.0 1022.0,410.0 C1023.2,420.0 1023.9,423.3 1025.0,430.0 C1026.1,436.7 1027.2,443.3 1028.5,450.0 C1029.8,456.7 1031.3,463.3 1033.0,470.0 C1034.7,476.7 1037.1,485.0 1038.5,490.0 C1039.9,495.0 1040.1,495.0 1041.5,500.0 C1042.9,505.0 1044.9,513.3 1047.0,520.0 C1049.1,526.7 1051.3,533.3 1054.0,540.0 C1056.7,546.7 1059.7,553.3 1063.0,560.0 C1066.3,566.7 1070.0,573.3 1074.0,580.0 C1078.0,586.7 1081.8,593.3 1087.0,600.0 C1092.2,606.7 1097.8,613.3 1105.0,620.0 C1112.2,626.7 1122.0,634.7 1130.0,640.0 C1138.0,645.3 1145.3,648.7 1153.0,652.0 C1160.7,655.3 1169.5,658.2 1176.0,660.0 C1182.5,661.8 1187.0,662.7 1192.0,663.0 C1197.0,663.3 1201.3,663.0 1206.0,662.0 C1210.7,661.0 1215.7,658.8 1220.0,657.0 C1224.3,655.2 1228.7,652.2 1232.0,651.0 C1235.3,649.8 1236.0,650.2 1240.0,650.0 C1244.0,649.8 1251.0,651.0 1256.0,650.0 C1261.0,649.0 1265.3,646.3 1270.0,644.0 C1274.7,641.7 1279.3,638.2 1284.0,636.0 C1288.7,633.8 1293.7,631.5 1298.0,631.0 C1302.3,630.5 1306.3,631.5 1310.0,633.0 C1313.7,634.5 1316.7,637.8 1320.0,640.0 C1323.3,642.2 1326.7,644.4 1330.0,646.0 C1333.3,647.6 1336.7,648.4 1340.0,649.6 C1343.3,650.8 1346.7,652.0 1350.0,653.0 C1353.3,654.0 1355.0,654.5 1360.0,655.6 C1365.0,656.7 1375.0,658.4 1380.0,659.6 C1385.0,660.8 1386.7,662.0 1390.0,663.0 C1393.3,664.0 1397.0,664.9 1400.0,665.6 C1403.0,666.3 1406.7,666.8 1408.0,667.0" fill="none" stroke="#ff0000" stroke-width="8.2" stroke-linejoin="round"/>
<rect x="117" y="90" width="10" height="1483"/>
<rect x="120" y="1568.7" width="1310" height="11.1"/>
<rect x="152.1" y="1551" width="7.8" height="20"/>
<rect x="554.8000000000001" y="1551" width="7.8" height="20"/>
<rect x="960.1" y="1551" width="7.8" height="20"/>
<rect x="1365.0" y="1551" width="7.8" height="20"/>
<rect x="179" y="91" width="8" height="251"/>
<rect x="487" y="323" width="7.6" height="360"/>
<polygon points="477,675.6 506,675.6 491.4,703.6"/>
<rect x="584" y="139.2" width="76" height="5.8"/>
<rect x="697.7" y="35" width="101" height="5.8"/>
<rect x="720.2" y="139" width="76" height="5.4"/>
<rect x="527" y="808.6" width="102.4" height="5.8"/><rect x="623.6" y="808.6" width="5.8" height="28"/>
<polygon points="760,734.4 880.6,737 880.6,742.6 760,740"/>
<rect x="935.4" y="183" width="7.7" height="488"/>
<rect x="938" y="666" width="468" height="7.8"/>
<rect x="959.4000000000001" y="661.2" width="5.6" height="6"/>
<rect x="1085.2" y="661.2" width="5.6" height="6"/>
<rect x="1210.7" y="661.2" width="5.6" height="6"/>
<rect x="1336.7" y="661.2" width="5.6" height="6"/>
<rect x="1002" y="179" width="27" height="5.4"/>
<rect x="1202.4" y="625" width="38.4" height="6"/><rect x="1235.6" y="625" width="5.2" height="27.6"/>
<rect x="1298.6" y="625" width="54" height="6"/>
<g opacity="0.999">
<text transform="translate(133.77,1652.15) scale(0.9779,1)" font-size="84.74" fill="#000">2200</text>
<text transform="translate(507.47,1652.15) scale(0.9786,1)" font-size="84.74" fill="#000">2100</text>
<text transform="translate(898.77,1652.15) scale(0.9779,1)" font-size="84.74" fill="#000">2000</text>
<text transform="translate(1314.41,1652.15) scale(0.9554,1)" font-size="84.74" fill="#000">1900</text>
<text transform="translate(462.50,1720.50) scale(0.9644,1)" font-size="85.38" >Wavenumber (cm<tspan font-size="54.65" dy="-23.05">-1</tspan><tspan dy="23.05">)</tspan></text>
<text transform="translate(86.97,1036.83) rotate(-90) scale(0.9925,1)" font-size="83.29" fill="#000">Absorbance</text>
<text transform="translate(203.82,215.09) scale(0.9779,1)" font-size="94.12" fill="#000">0.2</text>
<text transform="translate(492.71,135.54) scale(0.9570,1)" font-size="76.44" fill="#000">2073</text>
<text transform="translate(712.09,97.44) scale(0.9679,1)" font-size="76.00" fill="#000">2067</text>
<text transform="translate(730.75,203.54) scale(0.9849,1)" font-size="75.56" fill="#000">2059</text>
<text transform="translate(414.66,878.85) scale(0.9910,1)" font-size="74.96" fill="#000">2086</text>
<text transform="translate(823.72,801.05) scale(0.9676,1)" font-size="75.26" fill="#000">2051</text>
<text transform="translate(470.00,299.66) scale(0.9625,1)" font-size="83.57" fill="#2f2fcf">b</text>
<text transform="translate(576.90,314.65) scale(1.0392,1)" font-size="85.26" fill="#ff0028">a</text>
<text transform="translate(469.15,772.00) scale(1.1555,1)" font-size="82.29" fill="#000">f</text>
<text transform="translate(1037.11,194.63) scale(0.9571,1)" font-size="67.11" fill="#000">2073</text>
<text transform="translate(1110.42,610.33) scale(0.9305,1)" font-size="66.67" fill="#000">1878</text>
<text transform="translate(1282.42,613.33) scale(0.9305,1)" font-size="66.67" fill="#000">1835</text>
<text transform="translate(917.00,707.65) scale(1.0253,1)" font-size="45.48" fill="#000">2100</text>
<text transform="translate(1054.93,707.65) scale(1.0092,1)" font-size="45.48" fill="#000">2000</text>
<text transform="translate(1182.96,707.65) scale(0.9877,1)" font-size="45.48" fill="#000">1900</text>
<text transform="translate(1319.96,707.65) scale(0.9877,1)" font-size="45.48" fill="#000">1800</text>
<text transform="translate(966.80,752.50) scale(0.9915,1)" font-size="55.69" >Wavenumber (cm<tspan font-size="33.97" dy="-19.49">-1</tspan><tspan dy="19.49">)</tspan></text>
<text transform="translate(928.64,568.55) rotate(-90) scale(0.9891,1)" font-size="55.57" fill="#000">Absorbance</text>
</g>
</svg>
</body></html>
